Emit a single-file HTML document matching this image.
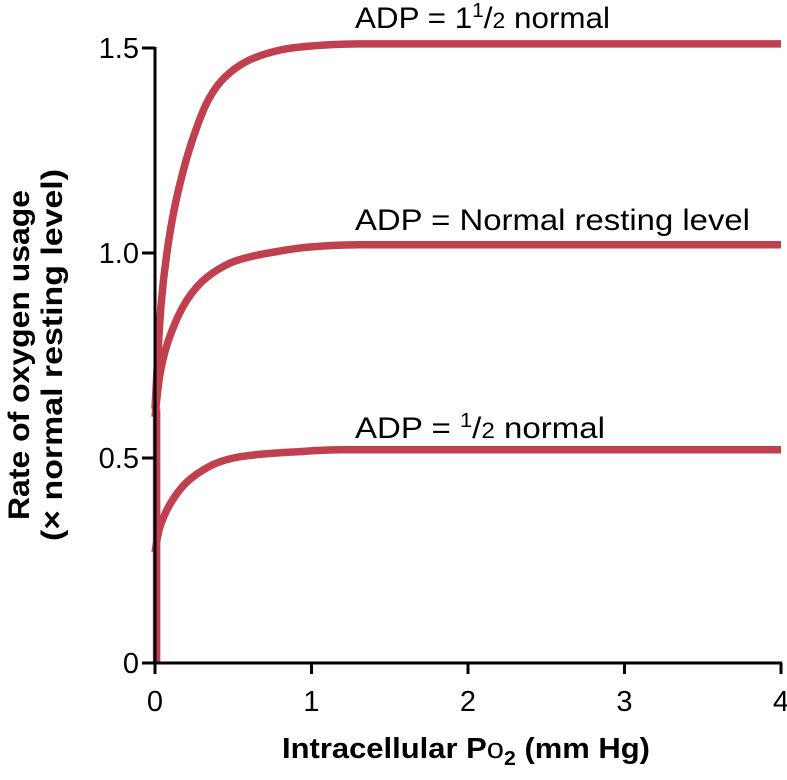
<!DOCTYPE html>
<html><head><meta charset="utf-8"><style>
html,body{margin:0;padding:0;background:#fff;}
svg{display:block;font-family:"Liberation Sans",Arial,sans-serif;}
</style></head><body>
<svg id="chart" width="787" height="780" viewBox="0 0 787 780" xmlns="http://www.w3.org/2000/svg">
<g id="curves"></g>
<g id="axes"></g>
<text x="355" y="28" font-size="30" textLength="255" lengthAdjust="spacingAndGlyphs">ADP = 1<tspan font-size="20" dy="-11">1</tspan><tspan dy="11">/</tspan><tspan font-size="22">2</tspan> normal</text>
<text x="355" y="230" font-size="30" textLength="395" lengthAdjust="spacingAndGlyphs">ADP = Normal resting level</text>
<text x="355" y="438" font-size="30" textLength="250" lengthAdjust="spacingAndGlyphs">ADP = <tspan font-size="20" dy="-11">1</tspan><tspan dy="11">/</tspan><tspan font-size="22">2</tspan> normal</text>
<text x="466" y="758" font-size="29" font-weight="bold" text-anchor="middle" textLength="368" lengthAdjust="spacingAndGlyphs">Intracellular P<tspan font-weight="normal">o</tspan><tspan font-size="20" dy="7">2</tspan><tspan dy="-7"> (mm Hg)</tspan></text>
<text transform="translate(29,355) rotate(-90)" font-size="30" font-weight="bold" text-anchor="middle" textLength="330" lengthAdjust="spacingAndGlyphs">Rate of oxygen usage</text>
<text transform="translate(62,355) rotate(-90)" font-size="30" font-weight="bold" text-anchor="middle" textLength="372" lengthAdjust="spacingAndGlyphs">(× normal resting level)</text>
</svg>
<script>
const xTicks=[0,1,2,3,4];
const yTicks=[0,0.5,1.0,1.5];
const yTickLabels=["0","0.5","1.0","1.5"];
const xHigh=[0,0.04,0.1,0.18,0.27,0.35,0.45,0.6,0.8,1.0,1.3,2,3,4];
const yHigh=[0.62,0.88,1.06,1.2,1.31,1.38,1.43,1.47,1.495,1.505,1.51,1.51,1.51,1.51];
const xNorm=[0,0.03,0.08,0.18,0.3,0.45,0.6,0.8,1.0,1.3,2,3,4];
const yNorm=[0.6,0.7,0.78,0.87,0.93,0.97,0.99,1.005,1.015,1.02,1.02,1.02,1.02];
const xHalf=[0,0.03,0.1,0.2,0.35,0.5,0.7,0.9,1.2,2,3,4];
const yHalf=[0.27,0.33,0.39,0.44,0.48,0.5,0.51,0.515,0.52,0.52,0.52,0.52];
const xVert=[0.01,0.01];
const yVert=[0,0.62];
const X=v=>155+v*156.5;
const Y=v=>663-v*410;
const NS="http://www.w3.org/2000/svg";
const curves=document.getElementById('curves');
const axes=document.getElementById('axes');
function line(xs,ys,name){
  const p=document.createElementNS(NS,'path');
  
  
  const pts=xs.map((x,i)=>[X(x),Y(ys[i])]);
  let d='M'+pts[0][0].toFixed(1)+','+pts[0][1].toFixed(1);
  for(let i=0;i<pts.length-1;i++){
    const p0=pts[Math.max(0,i-1)],p1=pts[i],p2=pts[i+1],p3=pts[Math.min(pts.length-1,i+2)];
    const c1=[p1[0]+(p2[0]-p0[0])/6,p1[1]+(p2[1]-p0[1])/6];
    const c2=[p2[0]-(p3[0]-p1[0])/6,p2[1]-(p3[1]-p1[1])/6];
    d+=' C'+c1.map(v=>v.toFixed(1)).join(',')+' '+c2.map(v=>v.toFixed(1)).join(',')+' '+p2.map(v=>v.toFixed(1)).join(',');
  }
  p.setAttribute('d',d);
  p.setAttribute('fill','none');p.setAttribute('stroke','#c0404f');
  p.setAttribute('stroke-width','7.5');p.setAttribute('stroke-linejoin','round');
  curves.appendChild(p);
}
line(xVert,yVert,'vertical-rise');
line(xHigh,yHigh,'curve-adp-1-5');
line(xNorm,yNorm,'curve-adp-normal');
line(xHalf,yHalf,'curve-adp-half');
function seg(x1,y1,x2,y2,name){
  const l=document.createElementNS(NS,'line');
  
  
  l.setAttribute('x1',x1);l.setAttribute('y1',y1);l.setAttribute('x2',x2);l.setAttribute('y2',y2);
  l.setAttribute('stroke','#000');l.setAttribute('stroke-width','3');
  axes.appendChild(l);
}
seg(X(0),Y(1.5)-1,X(0),Y(0)+1,'y-axis-line');
seg(X(0)-1,Y(0),X(4)+1,Y(0),'x-axis-line');
xTicks.forEach(t=>{
  seg(X(t),Y(0),X(t),Y(0)+11,'x-tick');
  const tx=document.createElementNS(NS,'text');
  
  
  tx.setAttribute('x',X(t));tx.setAttribute('y',Y(0)+48);
  tx.setAttribute('font-size','29');tx.setAttribute('text-anchor','middle');
  tx.textContent=String(t);axes.appendChild(tx);
});
yTicks.forEach((t,i)=>{
  seg(X(0)-13,Y(t),X(0),Y(t),'y-tick');
  const tx=document.createElementNS(NS,'text');
  
  
  tx.setAttribute('x',X(0)-16);tx.setAttribute('y',Y(t)+10);
  tx.setAttribute('font-size','29');tx.setAttribute('text-anchor','end');
  tx.textContent=yTickLabels[i];axes.appendChild(tx);
});
</script>
</body></html>
